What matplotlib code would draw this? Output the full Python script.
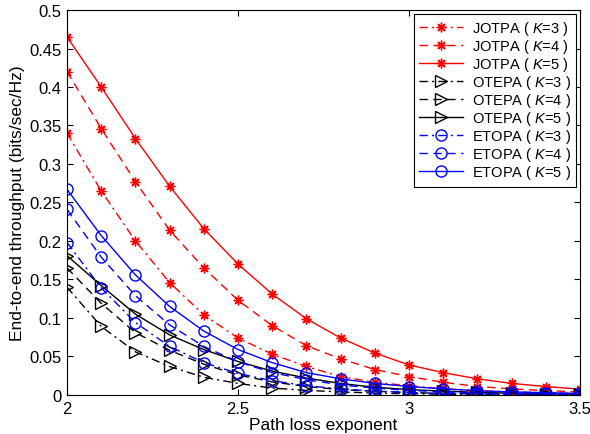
import matplotlib
matplotlib.use('Agg')
import matplotlib.pyplot as plt
from matplotlib.ticker import FormatStrFormatter

plt.rcParams['font.family'] = ['Liberation Sans', 'DejaVu Sans']
plt.rcParams['mathtext.fontset'] = 'custom'
plt.rcParams['mathtext.it'] = 'Liberation Sans:italic'
plt.rcParams['mathtext.rm'] = 'Liberation Sans'

# path loss exponent
x = [2.0, 2.1, 2.2, 2.3, 2.4, 2.5, 2.6, 2.7, 2.8, 2.9, 3.0, 3.1, 3.2, 3.3, 3.4, 3.5]

jotpa_k3 = [0.340, 0.265, 0.200, 0.146, 0.104, 0.074, 0.053, 0.037, 0.024, 0.0165, 0.012, 0.008, 0.0055, 0.004, 0.0028, 0.002]
jotpa_k4 = [0.420, 0.346, 0.277, 0.214, 0.165, 0.123, 0.090, 0.064, 0.047, 0.033, 0.024, 0.0165, 0.011, 0.008, 0.0056, 0.004]
jotpa_k5 = [0.465, 0.400, 0.333, 0.271, 0.216, 0.170, 0.131, 0.099, 0.074, 0.0545, 0.039, 0.029, 0.021, 0.015, 0.011, 0.0075]
otepa_k3 = [0.140, 0.089, 0.056, 0.037, 0.023, 0.015, 0.009, 0.006, 0.004, 0.0025, 0.0016, 0.001, 0.0007, 0.0005, 0.0003, 0.0002]
otepa_k4 = [0.165, 0.119, 0.081, 0.058, 0.040, 0.026, 0.017, 0.011, 0.007, 0.0048, 0.0032, 0.002, 0.0014, 0.001, 0.0006, 0.0004]
otepa_k5 = [0.181, 0.142, 0.105, 0.078, 0.059, 0.0435, 0.031, 0.022, 0.015, 0.010, 0.007, 0.005, 0.0034, 0.0023, 0.0016, 0.001]
etopa_k3 = [0.198, 0.139, 0.094, 0.063, 0.042, 0.028, 0.0185, 0.012, 0.008, 0.005, 0.0033, 0.0022, 0.0015, 0.001, 0.0007, 0.0005]
etopa_k4 = [0.241, 0.179, 0.129, 0.091, 0.063, 0.043, 0.029, 0.020, 0.013, 0.009, 0.006, 0.004, 0.0027, 0.0018, 0.0012, 0.0008]
etopa_k5 = [0.267, 0.207, 0.156, 0.115, 0.083, 0.059, 0.042, 0.029, 0.021, 0.015, 0.011, 0.008, 0.0055, 0.004, 0.003, 0.002]

fig = plt.figure(figsize=(5.9, 4.35), dpi=100)
ax = fig.add_axes([0.1136, 0.0897, 0.8695, 0.885])

dashdot = (0, (6, 3, 1.5, 3))
dashed = (0, (6, 4))
solid = '-'
asterisk = (8, 2, 0)

series = [
    ('JOTPA', 3, jotpa_k3, 'r', asterisk, dashdot),
    ('JOTPA', 4, jotpa_k4, 'r', asterisk, dashed),
    ('JOTPA', 5, jotpa_k5, 'r', asterisk, solid),
    ('OTEPA', 3, otepa_k3, 'k', '>', dashdot),
    ('OTEPA', 4, otepa_k4, 'k', '>', dashed),
    ('OTEPA', 5, otepa_k5, 'k', '>', solid),
    ('ETOPA', 3, etopa_k3, 'b', 'o', dashdot),
    ('ETOPA', 4, etopa_k4, 'b', 'o', dashed),
    ('ETOPA', 5, etopa_k5, 'b', 'o', solid),
]

for name, k, y, c, m, ls in series:
    ax.plot(x, y, color=c, linestyle=ls, linewidth=1.0, marker=m,
            markersize=7 if m == asterisk else 8, markerfacecolor='none',
            markeredgecolor=c, markeredgewidth=1.0,
            label=name + ' ( $K$=' + str(k) + ' )')

ax.set_xlim(2, 3.5)
ax.set_ylim(0, 0.5)
ax.set_xticks([2, 2.5, 3, 3.5])
ax.set_yticks([i * 0.05 for i in range(11)])
ax.xaxis.set_major_formatter(FormatStrFormatter('%g'))
ax.yaxis.set_major_formatter(FormatStrFormatter('%g'))
ax.tick_params(direction='in', top=True, right=True, labelsize=12, length=4, width=0.8, pad=4)
for s in ax.spines.values():
    s.set_linewidth(0.8)

ax.set_xlabel('Path loss exponent', fontsize=12.5, labelpad=1)
ax.set_ylabel('End-to-end throughput (bits/sec/Hz)', fontsize=12.5, labelpad=3)

leg = ax.legend(loc='upper right', fontsize=10.5, handlelength=3.0, labelspacing=0.0,
                borderpad=0.35, handletextpad=0.6, fancybox=False, framealpha=1,
                borderaxespad=0.3)
leg.get_frame().set_edgecolor('k')
leg.get_frame().set_linewidth(0.8)

fig.savefig('out.png', dpi=100)
